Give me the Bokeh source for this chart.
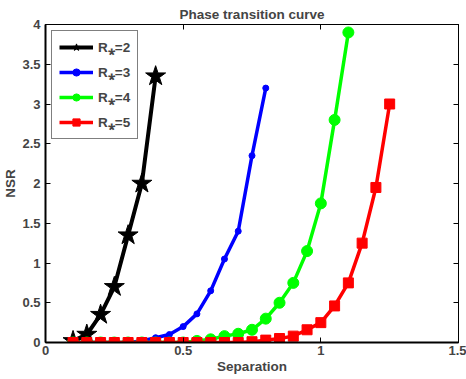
from bokeh.plotting import figure
from bokeh.models import LinearAxis, FixedTicker, Legend, LegendItem, Range1d, CustomJSTickFormatter
from bokeh.embed import file_html
from bokeh.resources import INLINE

# ---- data ----
x_r2 = [0.10, 0.15, 0.20, 0.25, 0.30, 0.35, 0.40]
y_r2 = [0.02, 0.10, 0.35, 0.70, 1.35, 2.00, 3.35]

x_r3 = [0.10, 0.15, 0.20, 0.25, 0.30, 0.35, 0.40, 0.45, 0.50, 0.55, 0.60, 0.65, 0.70, 0.75, 0.80]
y_r3 = [0.0, 0.0, 0.0, 0.0, 0.0, 0.02, 0.06, 0.10, 0.20, 0.36, 0.65, 1.05, 1.40, 2.35, 3.20]

x_r4 = [0.10, 0.15, 0.20, 0.25, 0.30, 0.35, 0.40, 0.45, 0.50, 0.55, 0.60, 0.65, 0.70,
        0.75, 0.80, 0.85, 0.90, 0.95, 1.00, 1.05, 1.10]
y_r4 = [0.0, 0.0, 0.0, 0.0, 0.0, 0.0, 0.0, 0.0, 0.0, 0.02, 0.04, 0.08, 0.11,
        0.16, 0.30, 0.50, 0.75, 1.15, 1.75, 2.80, 3.90]

x_r5 = [0.10, 0.15, 0.20, 0.25, 0.30, 0.35, 0.40, 0.45, 0.50, 0.55, 0.60, 0.65, 0.70,
        0.75, 0.80, 0.85, 0.90, 0.95, 1.00, 1.05, 1.10, 1.15, 1.20, 1.25]
y_r5 = [0.0, 0.0, 0.0, 0.0, 0.0, 0.0, 0.0, 0.0, 0.0, 0.0, 0.0, 0.0, 0.0,
        0.01, 0.03, 0.05, 0.08, 0.16, 0.25, 0.46, 0.75, 1.25, 1.95, 3.00]

labels = ["R\u204e=2", "R\u204e=3", "R\u204e=4", "R\u204e=5"]

x_ticks = [0, 0.5, 1, 1.5]
x_tick_labels = ["0", "0.5", "1", "1.5"]
y_ticks = [0, 0.5, 1, 1.5, 2, 2.5, 3, 3.5, 4]
y_tick_labels = ["0", "0.5", "1", "1.5", "2", "2.5", "3", "3.5", "4"]

FONT = "Liberation Sans"

p = figure(width=466, height=379, output_backend="svg", toolbar_location=None,
           x_range=Range1d(0, 1.5), y_range=Range1d(0, 4),
           title="Phase transition curve",
           min_border_left=44, min_border_right=8, min_border_top=24, min_border_bottom=37)

p.title.align = "center"
p.title.text_font = FONT
p.title.text_font_size = "13.5px"
p.title.text_font_style = "bold"
p.title.offset = 0
p.title.standoff = 6
p.grid.visible = False
p.outline_line_color = "black"
p.outline_line_width = 1

for ax, ticks, labs in ((p.xaxis[0], x_ticks, x_tick_labels), (p.yaxis[0], y_ticks, y_tick_labels)):
    ax.ticker = FixedTicker(ticks=ticks)
    ax.major_label_overrides = {t: l for t, l in zip(ticks, labs)}
    ax.major_tick_in = 5
    ax.major_tick_out = 0
    ax.minor_tick_in = 0
    ax.minor_tick_out = 0
    ax.major_label_text_font = FONT
    ax.major_label_text_font_style = "bold"
    ax.major_label_text_font_size = "13px"
    ax.axis_label_text_font = FONT
    ax.axis_label_text_font_style = "bold"
    ax.axis_label_text_font_size = "13.5px"
    ax.axis_line_width = 2

p.xaxis[0].axis_label = "Separation"
p.yaxis[0].axis_label = "NSR"
p.xaxis[0].major_label_standoff = 3
p.xaxis[0].axis_label_standoff = 1
p.yaxis[0].major_label_standoff = 5
p.yaxis[0].axis_label_standoff = 1

# box ticks on right/top (no labels)
blank = CustomJSTickFormatter(code="return ''")
for loc, ticks in (("right", y_ticks), ("above", x_ticks)):
    a = LinearAxis(ticker=FixedTicker(ticks=ticks), formatter=blank,
                   major_tick_in=5, major_tick_out=0, minor_tick_in=0, minor_tick_out=0,
                   major_label_standoff=0, axis_line_width=1)
    p.add_layout(a, loc)

l2 = p.line(x_r2, y_r2, line_color="black", line_width=4)
s2 = p.scatter(x_r2, y_r2, marker="star", size=21, color="black")
l3 = p.line(x_r3, y_r3, line_color="#0000ff", line_width=3.5)
s3 = p.scatter(x_r3, y_r3, marker="circle", size=6, color="#0000ff")
l4 = p.line(x_r4, y_r4, line_color="#00ff00", line_width=3.5)
s4 = p.scatter(x_r4, y_r4, marker="circle", size=11, color="#00ff00")
l5 = p.line(x_r5, y_r5, line_color="#ff0000", line_width=3.5)
s5 = p.scatter(x_r5, y_r5, marker="square", size=10, color="#ff0000")

legend = Legend(items=[
    LegendItem(label=labels[0], renderers=[l2, s2]),
    LegendItem(label=labels[1], renderers=[l3, s3]),
    LegendItem(label=labels[2], renderers=[l4, s4]),
    LegendItem(label=labels[3], renderers=[l5, s5]),
], location="top_left")
legend.label_text_font = FONT
legend.label_text_font_style = "bold"
legend.label_text_font_size = "13.5px"
legend.border_line_color = "black"
legend.border_line_width = 1
legend.margin = 6
legend.padding = 7
legend.spacing = 7
legend.glyph_width = 34
legend.glyph_height = 18
legend.label_standoff = 5
legend.label_height = 18
legend.background_fill_alpha = 1
p.add_layout(legend)

open("out.html", "w").write(file_html(p, INLINE))
